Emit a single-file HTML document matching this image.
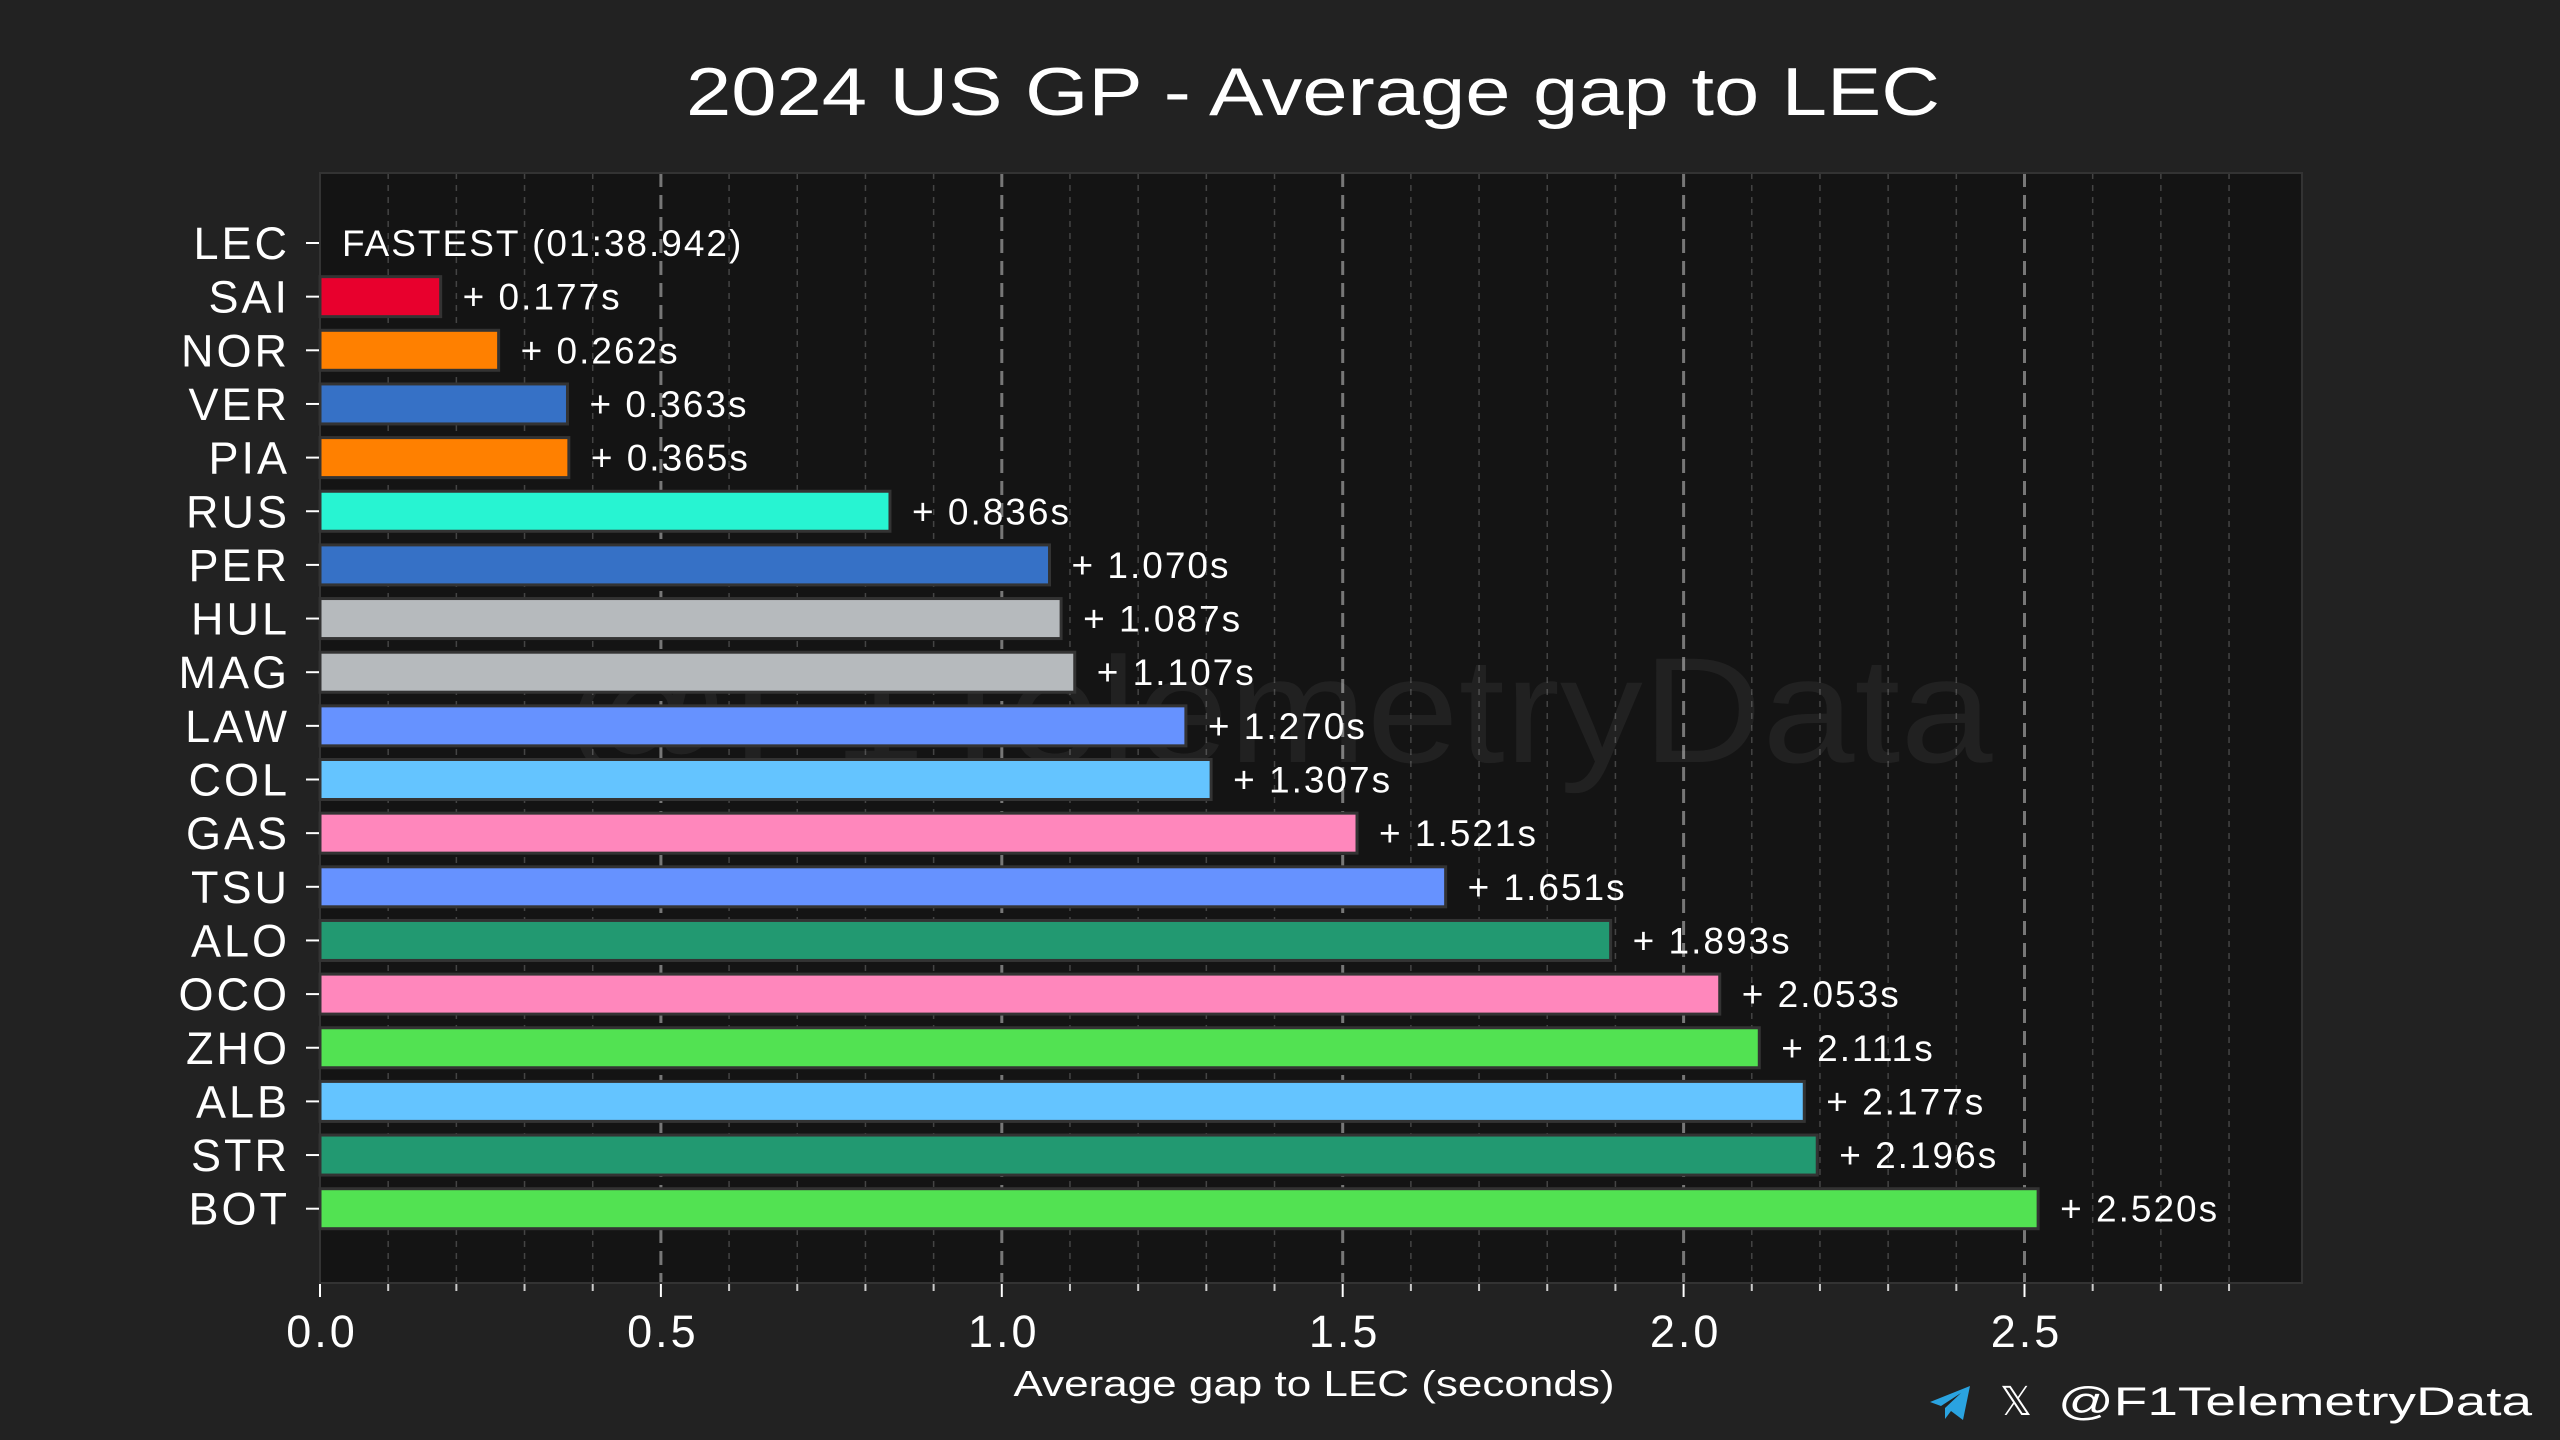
<!DOCTYPE html>
<html><head><meta charset="utf-8"><style>
html,body{margin:0;padding:0;background:#222222;width:2560px;height:1440px;overflow:hidden;font-family:"Liberation Sans",sans-serif;}
svg text{font-family:"Liberation Sans",sans-serif;}
</style></head><body>
<svg id="chart" width="2560" height="1440" xmlns="http://www.w3.org/2000/svg">
<rect width="2560" height="1440" fill="#222222"/>
<text x="1313" y="115" fill="#ffffff" font-size="68" text-anchor="middle" textLength="1254" lengthAdjust="spacingAndGlyphs">2024 US GP - Average gap to LEC</text>
<rect x="320" y="173" width="1982" height="1110" fill="#141414"/>
<g id="grid"></g>
<text x="1278" y="762" fill="#ffffff" fill-opacity="0.06" font-size="150" text-anchor="middle" textLength="1429" lengthAdjust="spacingAndGlyphs">@F1TelemetryData</text>
<g id="bars"></g>
<g id="ticks"></g>
<text x="1314" y="1396" fill="#ffffff" font-size="36" text-anchor="middle" textLength="601" lengthAdjust="spacingAndGlyphs">Average gap to LEC (seconds)</text>
<g>
<path d="M1930 1402 l40 -16 l-7 34 l-12 -9 l-6 8 l0 -11 l16 -15 l-20 13 z" fill="#2aa3e0"/>
<text x="2016" y="1415" fill="#ffffff" font-size="40" text-anchor="middle">𝕏</text>
<text x="2532" y="1415" fill="#ffffff" font-size="40" text-anchor="end" textLength="474" lengthAdjust="spacingAndGlyphs">@F1TelemetryData</text>
</g>
</svg>
<script>
const drivers=["LEC","SAI","NOR","VER","PIA","RUS","PER","HUL","MAG","LAW","COL","GAS","TSU","ALO","OCO","ZHO","ALB","STR","BOT"];
const gaps=[0,0.177,0.262,0.363,0.365,0.836,1.070,1.087,1.107,1.270,1.307,1.521,1.651,1.893,2.053,2.111,2.177,2.196,2.520];
const colors=["#e8002d","#e8002d","#ff8000","#3671c6","#ff8000","#27f4d2","#3671c6","#b6babd","#b6babd","#6692ff","#64c4ff","#ff87bc","#6692ff","#229971","#ff87bc","#52e252","#64c4ff","#229971","#52e252"];
const xTicks=[0,0.5,1.0,1.5,2.0,2.5];
const xTickLabels=["0.0","0.5","1.0","1.5","2.0","2.5"];
const NS="http://www.w3.org/2000/svg";
const X0=320,XU=681.8,Y0=243,YS=53.65,TOP=173,BOT=1283,RIGHT=2302;
const xs=v=>X0+v*XU, ys=i=>Y0+i*YS;
function mk(t,a,p){const e=document.createElementNS(NS,t);for(const k in a)e.setAttribute(k,a[k]);p.appendChild(e);return e;}
const grid=document.getElementById('grid'),bars=document.getElementById('bars'),ticks=document.getElementById('ticks');
for(let k=1;k<29;k++){const v=k/10;if(k%5===0)continue;
 const l=mk('line',{x1:xs(v),x2:xs(v),y1:TOP,y2:BOT,stroke:'#444',"stroke-width":1.5,"stroke-dasharray":"6 6"},grid);
 
 
 const t=mk('line',{x1:xs(v),x2:xs(v),y1:BOT,y2:BOT+8,stroke:'#ccc',"stroke-width":2},ticks);
 
 }
xTicks.forEach((v,i)=>{
 if(v>0){const l=mk('line',{x1:xs(v),x2:xs(v),y1:TOP,y2:BOT,stroke:'#777',"stroke-width":3,"stroke-dasharray":"14 8"},grid);
 
 }
 const t=mk('line',{x1:xs(v),x2:xs(v),y1:BOT,y2:BOT+14,stroke:'#fff',"stroke-width":2},ticks);
 
 
 const tx=mk('text',{x:xs(v)+2,y:BOT+64,fill:'#fff',"font-size":45,"text-anchor":"middle","letter-spacing":3},ticks);tx.textContent=xTickLabels[i];
 
 
});
drivers.forEach((d,i)=>{
 const y=ys(i);
 const tk=mk('line',{x1:X0-14,x2:X0,y1:y,y2:y,stroke:'#fff',"stroke-width":2},ticks);
 
 
 const lb=mk('text',{x:X0-30,y:y+16,fill:'#fff',"font-size":45,"text-anchor":"end","letter-spacing":3},ticks);lb.textContent=d;
 
 
 if(gaps[i]>0){
  const r=mk('rect',{x:X0,y:y-20,width:xs(gaps[i])-X0,height:40,fill:colors[i],stroke:'#333',"stroke-width":3},bars);
  
  
  const v=mk('text',{x:xs(gaps[i])+22,y:y+13,fill:'#fff',"font-size":37,"letter-spacing":2},bars);v.textContent='+ '+gaps[i].toFixed(3)+'s';
  
  
 } else {
  const v=mk('text',{x:X0+22,y:y+13,fill:'#fff',"font-size":37,"letter-spacing":2},bars);v.textContent='FASTEST (01:38.942)';
  
  
 }
});
const ax=mk('rect',{x:X0,y:TOP,width:RIGHT-X0,height:BOT-TOP,fill:'none',stroke:'#333',"stroke-width":2},ticks);


</script>
</body></html>
